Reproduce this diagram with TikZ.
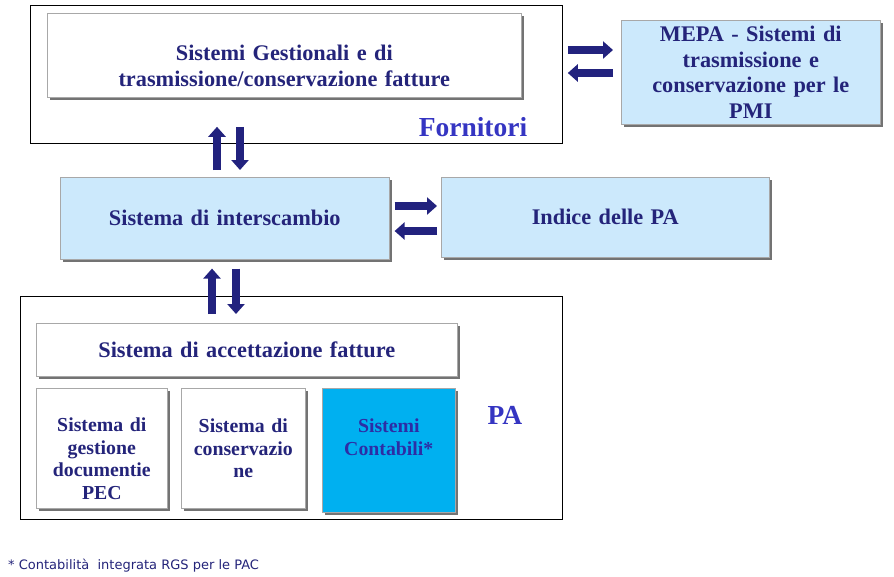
\documentclass[tikz,border=0pt]{standalone}
\usepackage{fontspec}
\setmainfont{Liberation Serif}
\newfontfamily\notefont{DejaVu Sans}
\usetikzlibrary{shadows,arrows.meta,calc}
\definecolor{navy}{HTML}{24247A}
\definecolor{lblue}{HTML}{CCE9FC}
\definecolor{cyanbox}{HTML}{00B0F0}
\definecolor{labblue}{HTML}{3535C2}
\definecolor{boxline}{HTML}{A8A8A8}
\definecolor{arrowfill}{HTML}{22227E}
\begin{document}
\begin{tikzpicture}[x=1pt,y=-1pt,
  frame/.style={draw=black, line width=0.8pt, anchor=north west, inner sep=0pt},
  box/.style={draw=boxline, line width=0.6pt, fill=white, anchor=north west, inner sep=2pt,
    align=center, text=navy, font=\bfseries\fontsize{22.3}{26}\selectfont,
    drop shadow={shadow xshift=2.5pt, shadow yshift=-2.5pt, fill=black!55, opacity=1}},
  bluebox/.style={box, fill=lblue},
  smallbox/.style={box, font=\bfseries\fontsize{19.8}{22.5}\selectfont},
  biglabel/.style={text=labblue, font=\bfseries\fontsize{27.5}{30}\selectfont, inner sep=0pt},
  barrow/.style={draw=arrowfill, line width=8pt, -{Triangle[width=17pt,length=10pt,fill=arrowfill]}},
]
\useasboundingbox (0,0) rectangle (894,576);
\fill[white] (0,0) rectangle (894,576);

% Fornitori frame
\node[frame, minimum width=532pt, minimum height=138pt] (forn) at (30,5) {};
\node[box, minimum width=474pt, minimum height=84pt, text width=460pt] (gest) at (47,13)
  {\rule{0pt}{37pt}Sistemi Gestionali e di\\trasmissione/conservazione fatture};
\node[biglabel] (fornlab) at (473,127) {Fornitori};

% MEPA
\node[bluebox, minimum width=259pt, minimum height=104pt, text width=250pt,
  font=\bfseries\fontsize{22.3}{25.7}\selectfont] (mepa) at (621,20)
  {MEPA - Sistemi di\\trasmissione e\\conservazione per le\\PMI};

% Interscambio and Indice
\node[bluebox, minimum width=329pt, minimum height=82pt, text width=320pt] (sdi) at (60,177)
  {Sistema di interscambio};
\node[bluebox, minimum width=328pt, minimum height=80pt, text width=320pt] (ipa) at (441,177)
  {Indice delle PA};

% PA frame
\node[frame, minimum width=542pt, minimum height=223pt] (pa) at (20,296) {};
\node[box, minimum width=421pt, minimum height=53pt, text width=410pt] (acc) at (36,323)
  {Sistema di accettazione fatture};
\node[smallbox, minimum width=131pt, minimum height=120pt, text width=127pt] (gdoc) at (36,388)
  {\rule{0pt}{35pt}Sistema di\\gestione\\documentie\\PEC};
\node[smallbox, minimum width=123pt, minimum height=120pt, text width=120pt] (cons) at (181,388)
  {Sistema di\\conservazio\\ne};
\node[smallbox, fill=cyanbox, minimum width=133pt, minimum height=124pt] (cont) at (322,388) {};
\node[anchor=north, align=center, text=labblue!85!black, inner sep=0pt,
  font=\bfseries\fontsize{19.8}{22.5}\selectfont] (conttext) at ($(cont.north)+(0,31)$)
  {Sistemi\\Contabili*};
\node[biglabel] (palab) at (505,415) {PA};

% Arrows Fornitori <-> MEPA
\draw[barrow] ($(forn.east |- 0,50)+(5,0)$) -- ($(mepa.west |- 0,50)+(-8,0)$);
\draw[barrow] ($(mepa.west |- 0,73)+(-8,0)$) -- ($(forn.east |- 0,73)+(5,0)$);

% Arrows Fornitori <-> Interscambio
\draw[barrow] ($(sdi.north -| 217,0)+(0,-7)$) -- ($(forn.south -| 217,0)+(0,-17)$);
\draw[barrow] ($(forn.south -| 240,0)+(0,-17)$) -- ($(sdi.north -| 240,0)+(0,-7)$);

% Arrows Interscambio <-> Indice
\draw[barrow] ($(sdi.east |- 0,206)+(5,0)$) -- ($(ipa.west |- 0,206)+(-4,0)$);
\draw[barrow] ($(ipa.west |- 0,231)+(-4,0)$) -- ($(sdi.east |- 0,231)+(5,0)$);

% Arrows Interscambio <-> PA
\draw[barrow] ($(pa.north -| 212,0)+(0,18)$) -- ($(sdi.south -| 212,0)+(0,9)$);
\draw[barrow] ($(sdi.south -| 236,0)+(0,9)$) -- ($(pa.north -| 236,0)+(0,18)$);

% Footnote
\node[anchor=west, inner sep=0pt, text=navy, font=\notefont\fontsize{13}{15}\selectfont] (note) at (8,566)
  {* Contabilità\ \ integrata RGS per le PAC};
\end{tikzpicture}
\end{document}
